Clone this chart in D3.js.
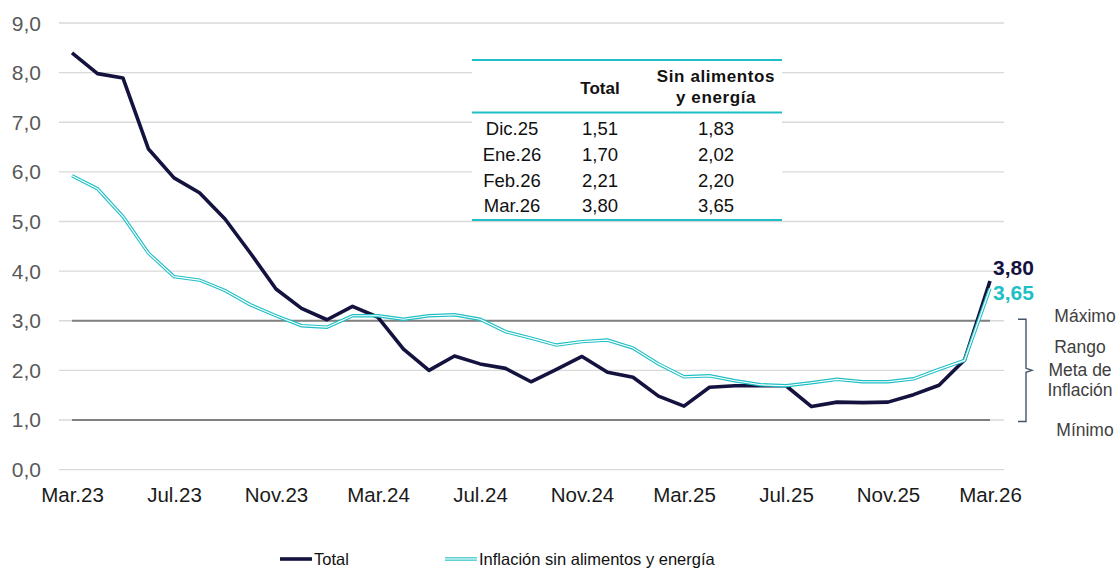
<!DOCTYPE html>
<html>
<head>
<meta charset="utf-8">
<script src="https://cdn.jsdelivr.net/npm/d3@7"></script>
<style>
  body { margin: 0; background: #fff; }
  text { font-family: "Liberation Sans", Arial, sans-serif; }
</style>
</head>
<body>
<div id="chart"></div>
<script>
// monthly series, Mar.23 .. Mar.26
const months = ["Mar.23","Abr.23","May.23","Jun.23","Jul.23","Ago.23","Sep.23","Oct.23","Nov.23","Dic.23",
  "Ene.24","Feb.24","Mar.24","Abr.24","May.24","Jun.24","Jul.24","Ago.24","Sep.24","Oct.24","Nov.24","Dic.24",
  "Ene.25","Feb.25","Mar.25","Abr.25","May.25","Jun.25","Jul.25","Ago.25","Sep.25","Oct.25","Nov.25","Dic.25",
  "Ene.26","Feb.26","Mar.26"];
const total = [8.40,7.98,7.89,6.46,5.88,5.58,5.05,4.36,3.64,3.25,3.02,3.29,3.07,2.43,2.00,2.29,2.13,2.04,1.77,2.02,2.28,1.96,
  1.86,1.48,1.28,1.66,1.69,1.69,1.69,1.27,1.36,1.35,1.36,1.51,1.70,2.21,3.80];
const core = [5.92,5.66,5.10,4.36,3.89,3.82,3.61,3.32,3.10,2.90,2.87,3.10,3.10,3.03,3.10,3.12,3.03,2.78,2.65,2.51,2.58,2.61,
  2.45,2.13,1.87,1.89,1.79,1.71,1.69,1.75,1.82,1.77,1.77,1.83,2.02,2.20,3.65];
const xTickLabels = ["Mar.23","Jul.23","Nov.23","Mar.24","Jul.24","Nov.24","Mar.25","Jul.25","Nov.25","Mar.26"];
const yTicks = [0,1,2,3,4,5,6,7,8,9];
const targetRange = [1, 3];

// summary table
const tableHeader = ["", "Total", ["Sin alimentos", "y energía"]];
const tableRows = [
  ["Dic.25", "1,51", "1,83"],
  ["Ene.26", "1,70", "2,02"],
  ["Feb.26", "2,21", "2,20"],
  ["Mar.26", "3,80", "3,65"]
];

const navy = "#14133f";
const teal = "#1fbfc5";

const width = 1118, height = 569;
const svg = d3.select("#chart").append("svg")
  .attr("width", width).attr("height", height);

const x = d3.scalePoint().domain(months).range([72, 990]);
const y = d3.scaleLinear().domain([0, 9]).range([469.6, 23]);
const fmt = d => d.toFixed(1).replace(".", ",");

// gridlines
svg.append("g").selectAll("line").data(yTicks).join("line")
  .attr("x1", 59).attr("x2", 1004)
  .attr("y1", d => y(d)).attr("y2", d => y(d))
  .attr("stroke", "#d9d9d9").attr("stroke-width", 1.3);

// target range lines
svg.append("g").selectAll("line").data(targetRange).join("line")
  .attr("x1", x(months[0])).attr("x2", x(months[months.length - 1]))
  .attr("y1", d => y(d)).attr("y2", d => y(d))
  .attr("stroke", "#808080").attr("stroke-width", 1.8);

// y axis labels
svg.append("g").selectAll("text").data(yTicks).join("text")
  .attr("x", 41).attr("y", d => y(d) + 7.5)
  .attr("text-anchor", "end")
  .attr("font-size", 21).attr("fill", "#595959")
  .text(fmt);

// x axis labels
const xAxis = d3.axisBottom(x).tickValues(xTickLabels).tickSize(0).tickPadding(0);
const gx = svg.append("g").attr("transform", "translate(0,480)").call(xAxis);
gx.select(".domain").remove();
gx.selectAll("text")
  .attr("y", 22).attr("dy", 0)
  .attr("font-size", 20.5).attr("fill", "#1a1a1a")
  .attr("font-family", "Liberation Sans, Arial, sans-serif");

const line = d3.line().x((d, i) => x(months[i])).y(d => y(d));

// total line
svg.append("path").datum(total)
  .attr("d", line).attr("fill", "none")
  .attr("stroke", navy).attr("stroke-width", 3.6)
  .attr("stroke-linejoin", "round");

// core line (double line)
svg.append("path").datum(core)
  .attr("d", line).attr("fill", "none")
  .attr("stroke", teal).attr("stroke-width", 3.4);
svg.append("path").datum(core)
  .attr("d", line).attr("fill", "none")
  .attr("stroke", "#fff").attr("stroke-width", 1.2);

// end labels
const last = months.length - 1;
svg.append("text")
  .attr("x", x(months[last]) + 3).attr("y", y(total[last]) - 6)
  .attr("font-size", 21).attr("font-weight", "bold").attr("fill", navy)
  .text(total[last].toFixed(2).replace(".", ","));
svg.append("text")
  .attr("x", x(months[last]) + 3).attr("y", y(core[last]) + 11.5)
  .attr("font-size", 21).attr("font-weight", "bold").attr("fill", teal)
  .text(core[last].toFixed(2).replace(".", ","));

// target range brace + labels
const bx = 1026, yTop = y(targetRange[1]) - 1.5, yBot = y(targetRange[0]) + 1.5, yMid = (yTop + yBot) / 2;
svg.append("path")
  .attr("d", `M${bx - 8},${yTop} L${bx},${yTop} L${bx},${yMid - 2} L${bx + 6},${yMid} L${bx},${yMid + 2} L${bx},${yBot} L${bx - 8},${yBot}`)
  .attr("fill", "none").attr("stroke", "#44546a").attr("stroke-width", 1.4);

const annot = svg.append("g").attr("font-size", 17.5).attr("fill", "#404040").attr("text-anchor", "middle");
annot.append("text").attr("x", 1085).attr("y", y(targetRange[1]) + 1.5).text("Máximo");
annot.append("text").attr("x", 1080).attr("y", yMid - 17).text("Rango");
annot.append("text").attr("x", 1080).attr("y", yMid + 5.5).text("Meta de");
annot.append("text").attr("x", 1080).attr("y", yMid + 26).text("Inflación");
annot.append("text").attr("x", 1085).attr("y", y(targetRange[0]) + 16.5).text("Mínimo");

// table
const tbl = svg.append("g");
const colX = [512, 600, 716];
tbl.append("rect").attr("x", 472).attr("y", 60).attr("width", 310).attr("height", 160).attr("fill", "#fff");
[60, 112.5, 220].forEach(yy => {
  tbl.append("line").attr("x1", 472).attr("x2", 782).attr("y1", yy).attr("y2", yy)
    .attr("stroke", teal).attr("stroke-width", 2.2);
});
tbl.append("text").attr("x", colX[1]).attr("y", 94)
  .attr("text-anchor", "middle").attr("font-size", 17).attr("font-weight", "bold").attr("fill", "#111")
  .text(tableHeader[1]);
tableHeader[2].forEach((t, i) => {
  tbl.append("text").attr("x", colX[2]).attr("y", 82 + i * 20.5)
    .attr("text-anchor", "middle").attr("font-size", 17).attr("font-weight", "bold").attr("fill", "#111")
    .attr("letter-spacing", 0.6)
    .text(t);
});
tableRows.forEach((r, ri) => {
  r.forEach((c, ci) => {
    tbl.append("text").attr("x", colX[ci]).attr("y", 135 + ri * 25.8)
      .attr("text-anchor", "middle").attr("font-size", 18.5).attr("fill", "#111")
      .text(c);
  });
});

// legend
const legend = [
  { label: "Total", color: navy, x: 280, double: false },
  { label: "Inflación sin alimentos y energía", color: teal, x: 445, double: true }
];
const lg = svg.append("g").selectAll("g").data(legend).join("g")
  .attr("transform", d => `translate(${d.x},559)`);
lg.append("line").attr("x1", 0).attr("x2", 32)
  .attr("stroke", d => d.color).attr("stroke-width", d => d.double ? 3.4 : 3.6);
lg.filter(d => d.double).append("line").attr("x1", 0).attr("x2", 32)
  .attr("stroke", "#fff").attr("stroke-width", 1.2);
lg.append("text").attr("x", 34).attr("y", 6)
  .attr("font-size", 16.5).attr("fill", "#111")
  .text(d => d.label);
</script>
</body>
</html>
